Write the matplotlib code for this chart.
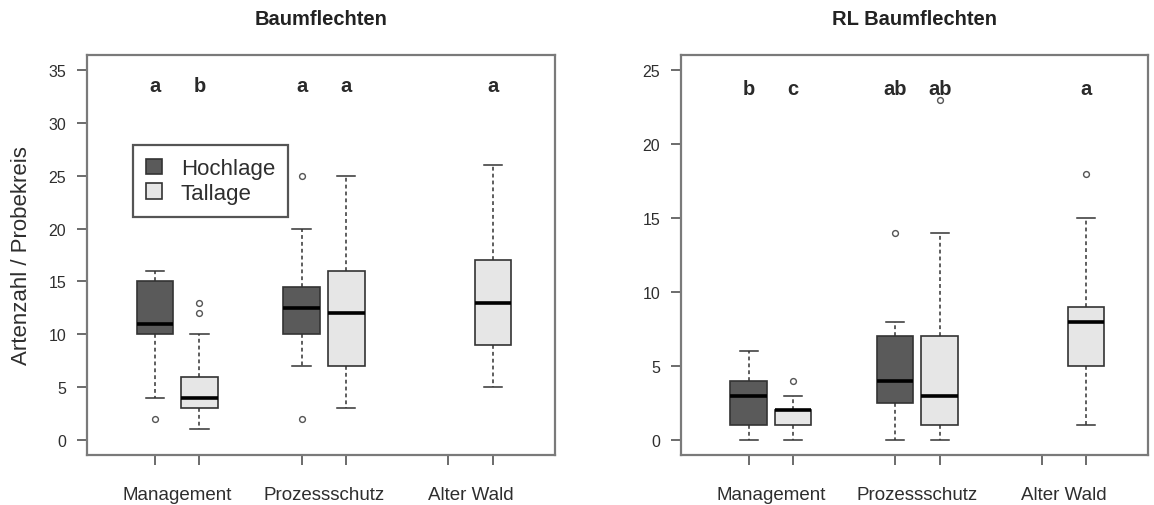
import matplotlib
matplotlib.use("Agg")
import matplotlib.pyplot as plt
from matplotlib.patches import Patch
from matplotlib.transforms import blended_transform_factory

plt.rcParams['font.family'] = ['Liberation Sans', 'DejaVu Sans']

# data: each box is [whislo, q1, median, q3, whishi]
groups = ["Management", "Prozessschutz", "Alter Wald"]
positions = [1, 2, 4.29, 5.29, 7.58, 8.58]   # Hoch/Tal pairs per group

bf_hoch = [[4, 10, 11, 15, 16], [7, 10, 12.5, 14.5, 20]]
bf_hoch_out = [[2], [2, 25]]
bf_tal = [[1, 3, 4, 6, 10], [3, 7, 12, 16, 25], [5, 9, 13, 17, 26]]
bf_tal_out = [[12, 13], [], []]
bf_letters = ["a", "b", "a", "a", "", "a"]

rl_hoch = [[0, 1, 3, 4, 6], [0, 2.5, 4, 7, 8]]
rl_hoch_out = [[], [14]]
rl_tal = [[0, 1, 2, 2, 3], [0, 1, 3, 7, 14], [1, 5, 8, 9, 15]]
rl_tal_out = [[4], [23], [18]]
rl_letters = ["b", "c", "ab", "ab", "", "a"]

dark = "#5a5a5a"
light = "#e6e6e6"
edge = "#333333"
txt = "#2e2e2e"


def stats(box, out):
    lo, q1, med, q3, hi = box
    return dict(whislo=lo, q1=q1, med=med, q3=q3, whishi=hi, fliers=out)


def draw(ax, hoch, hoch_out, tal, tal_out, letters, ylim, yticks, let_y, title):
    for data, outs, pos, col in [(hoch, hoch_out, [positions[0], positions[2]], dark),
                                 (tal, tal_out, [positions[1], positions[3], positions[5]], light)]:
        st = [stats(b, o) for b, o in zip(data, outs)]
        ax.bxp(st, positions=pos, widths=0.82, patch_artist=True,
               capwidths=0.41,
               boxprops=dict(facecolor=col, edgecolor=edge, linewidth=1.2),
               medianprops=dict(color="black", linewidth=2.6, solid_capstyle="butt"),
               whiskerprops=dict(color=edge, linewidth=1.1, linestyle=(0, (2.5, 2))),
               capprops=dict(color=edge, linewidth=1.1),
               flierprops=dict(marker="o", markersize=4.2, markerfacecolor="none",
                               markeredgecolor="#555555", markeredgewidth=1.0))

    for p, l in zip(positions, letters):
        if l:
            ax.text(p, let_y, l, ha="center", va="baseline", fontsize=14.5,
                    fontweight="bold", color="#2a2a2a")

    ax.set_xlim(-0.52, 9.97)
    ax.set_ylim(*ylim)
    ax.set_yticks(yticks)
    ax.set_yticklabels([str(t) for t in yticks])
    ax.set_xticks(positions)
    ax.set_xticklabels([])
    ax.tick_params(axis="both", length=7, width=1.1, color="#444444",
                   labelsize=11.5, labelcolor=txt, pad=8)
    for s in ax.spines.values():
        s.set_color("#7a7a7a")
        s.set_linewidth(1.6)

    tr = blended_transform_factory(ax.transData, ax.transAxes)
    centers = [(positions[0] + positions[1]) / 2, (positions[2] + positions[3]) / 2,
               (positions[4] + positions[5]) / 2]
    for c, g in zip(centers, groups):
        ax.text(c, -0.0975, g, transform=tr, ha="center", va="center",
                fontsize=13.5, color=txt)
    ax.text(0.5, 1.0925, title, transform=ax.transAxes, ha="center", va="center",
            fontsize=14.5, fontweight="bold", color="#222222")


fig = plt.figure(figsize=(11.54, 5.06), dpi=100)
ax1 = fig.add_axes([0.0754, 0.0988, 0.4056, 0.7905])
ax2 = fig.add_axes([0.5901, 0.0988, 0.4047, 0.7905])

draw(ax1, bf_hoch, bf_hoch_out, bf_tal, bf_tal_out, bf_letters,
     (-1.42, 36.42), [0, 5, 10, 15, 20, 25, 30, 35], 33.0, "Baumflechten")
draw(ax2, rl_hoch, rl_hoch_out, rl_tal, rl_tal_out, rl_letters,
     (-1.01, 26.01), [0, 5, 10, 15, 20, 25], 23.4, "RL Baumflechten")

fig.text(22 / 1154, 0.494, "Artenzahl / Probekreis", rotation=90, ha="center",
         va="center", fontsize=16, color=txt)

handles = [Patch(facecolor=dark, edgecolor=edge, linewidth=1.2, label="Hochlage"),
           Patch(facecolor=light, edgecolor=edge, linewidth=1.2, label="Tallage")]
leg = ax1.legend(handles=handles, loc="upper left", bbox_to_anchor=(0.098, 0.775),
                 borderaxespad=0, fontsize=16, handlelength=0.7, handleheight=0.7,
                 handletextpad=0.85, labelspacing=0.15, borderpad=0.6,
                 fancybox=False, framealpha=1)
leg.get_frame().set_edgecolor("#555555")
leg.get_frame().set_linewidth(1.6)
for t in leg.get_texts():
    t.set_color(txt)

fig.savefig("out.png", dpi=100)
